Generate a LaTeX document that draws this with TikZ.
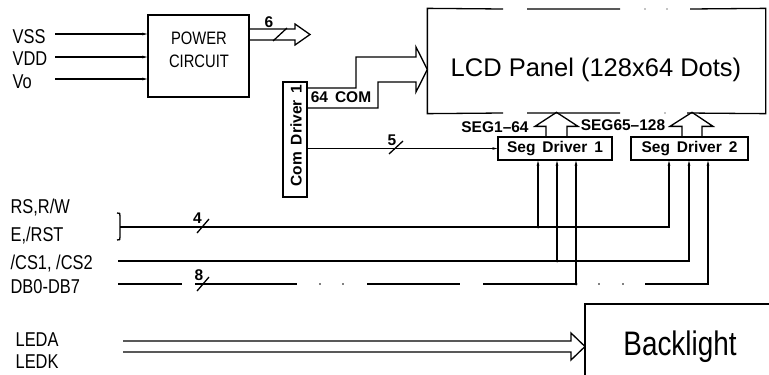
\documentclass[tikz,border=0pt]{standalone}
\usepackage{fontspec}
\setmainfont{Liberation Sans}
\newfontfamily\narrow[FakeStretch=0.82]{Liberation Sans}
\usetikzlibrary{arrows.meta}

\begin{document}
\begin{tikzpicture}[x=1pt, y=-1pt, line width=1.3pt, >={Stealth[length=5pt,width=2.6pt]},
  bloco/.style={draw, inner sep=0pt},
  sinal/.style={font=\narrow\fontsize{20}{22}\selectfont, anchor=base west, inner sep=0pt},
  cad/.style={font={\bfseries\fontsize{15.5}{18}\selectfont\spaceskip 7pt plus 1pt\relax}, inner sep=0pt}]
\useasboundingbox (0,0) rectangle (769,375);
% power circuit
\node[bloco, minimum width=101pt, minimum height=82pt] (pwr) at (198.5,56) {};
\node[font=\narrow\fontsize{18}{23}\selectfont, align=center, inner sep=0pt] (pwrtxt) at (199,50) {POWER\\CIRCUIT};
\node[sinal] (vss) at (12,43) {VSS};
\node[sinal] (vdd) at (12,65) {VDD};
\node[sinal] (vo) at (12,88) {Vo};
\coordinate (e1) at (55,34); \coordinate (e2) at (55,57); \coordinate (e3) at (55,79);
\draw[->] (e1) -- (e1 -| pwr.west); \draw[->] (e2) -- (e2 -| pwr.west); \draw[->] (e3) -- (e3 -| pwr.west);
\draw (pwr.east |- 0,29) -- (295,29) -- (295,24) -- (310,34.5) -- (295,45) -- (295,40) -- (pwr.east |- 0,40);
\draw (273,41) -- (287,28); \node[cad, anchor=base] (n6) at (269,27) {6};
% lcd panel
\node[inner sep=0pt, minimum width=337pt, minimum height=104pt] (lcd) at (596.5,61) {};
\node[font=\fontsize{25.5}{28}\selectfont, anchor=base, inner sep=0pt] (lcdtxt) at (596,76) {LCD Panel (128x64 Dots)};
\draw (503,9) -- (lcd.north west) -- (lcd.south west) -- (503,113) (527,113) -- (620,113)
  (687,113) -- (lcd.south east) -- (lcd.north east) -- (690,9) (620,9) -- (527,9);
\fill (645,9) circle (0.7pt) (667,9) circle (0.7pt) (665,113) circle (0.7pt);
% com driver
\node[bloco, minimum width=24pt, minimum height=115pt] (com) at (295,139.5) {};
\node[cad, rotate=90] (comtxt) at (296,135.5) {Com Driver 1};
\draw (com.east |- 0,88) -- (356,88) -- (356,57) -- (416,57) -- (416,47) -- (lcd.west |- 0,69.5)
  -- (416,92) -- (416,82) -- (378,82) -- (378,108) -- (com.east |- 0,108);
\node[cad, anchor=base] (com64) at (341,102) {64 COM};
% seg drivers
\node[bloco, cad, minimum width=114pt, minimum height=23pt] (seg1) at (555,148.5) {Seg Driver 1};
\node[bloco, cad, minimum width=117pt, minimum height=23pt] (seg2) at (689.5,148.5) {Seg Driver 2};
\draw ([xshift=-9pt]seg1.north) -- ++(0,-10) -- ++(-11,0) -- ++(21.5,-14) -- ++(21.5,14) -- ++(-11,0) -- ++(0,10);
\draw ([xshift=-7.5pt]seg2.north) -- ++(0,-10) -- ++(-12,0) -- ++(22,-14) -- ++(21,14) -- ++(-11,0) -- ++(0,10);
\node[cad, anchor=base] (seglbl1) at (495,132) {SEG1–64};
\node[cad, anchor=base] (seglbl2) at (623,130) {SEG65–128};
\draw[->] (com.east |- seg1.west) -- (seg1.west);
\draw (389,154) -- (403,141); \node[cad, anchor=base] (n5) at (392,145) {5};
% bus lines
\node[sinal] (rsrw) at (10,213) {RS,R/W};
\node[sinal] (erst) at (10,241) {E,/RST};
\node[sinal] (csx) at (10,269) {/CS1, /CS2};
\node[sinal] (dbx) at (10,293) {DB0-DB7};
\coordinate (rs) at (120,227); \coordinate (cs) at (118,261); \coordinate (db) at (118,284);
\coordinate (p1a) at ([xshift=-17pt]seg1.south); \coordinate (p1b) at ([xshift=2pt]seg1.south); \coordinate (p1c) at ([xshift=21pt]seg1.south);
\coordinate (p2a) at ([xshift=-20.5pt]seg2.south); \coordinate (p2b) at ([xshift=-0.5pt]seg2.south); \coordinate (p2c) at ([xshift=18.5pt]seg2.south);
\draw (117,213) .. controls (120,213) .. (120,216) -- (120,237) .. controls (120,240) .. (117,240);
\draw[->] (rs) -| (p2a); \draw[->] (rs -| p1a) -- (p1a);
\draw[->] (cs) -| (p2b); \draw[->] (cs -| p1b) -- (p1b);
\draw (db) -- (182,284) (195,284) -- (297,284) (367,284) -- (460,284) (483,284) -- (db -| p1c);
\draw[->] (645,284) -| (p2c); \draw[->] (db -| p1c) -- (p1c);
\fill (rs -| p1a) circle (1.5pt) (cs -| p1b) circle (1.5pt) (db -| p1c) circle (1.5pt);
\fill (320,284) circle (0.8pt) (343,284) circle (0.8pt) (599,284) circle (0.8pt) (623,284) circle (0.8pt);
\draw (197,233) -- (209,219); \node[cad, anchor=base] (n4) at (197.5,223) {4};
\draw (197,291) -- (209,277); \node[cad, anchor=base] (n8) at (199,280) {8};
% backlight
\node[sinal] (leda) at (15,346) {LEDA};
\node[sinal] (ledk) at (15,368) {LEDK};
\coordinate (blc) at (585,346.5);
\draw (769,304) -| (blc) -- (585,375);
\node[font=\narrow\fontsize{34}{36}\selectfont, anchor=base, inner sep=0pt] (bl) at (680,355) {Backlight};
\draw (123,341) -- (571,341) -- (571,333) -- (blc) -- (571,360) -- (571,352) -- (123,352);
\end{tikzpicture}
\end{document}
